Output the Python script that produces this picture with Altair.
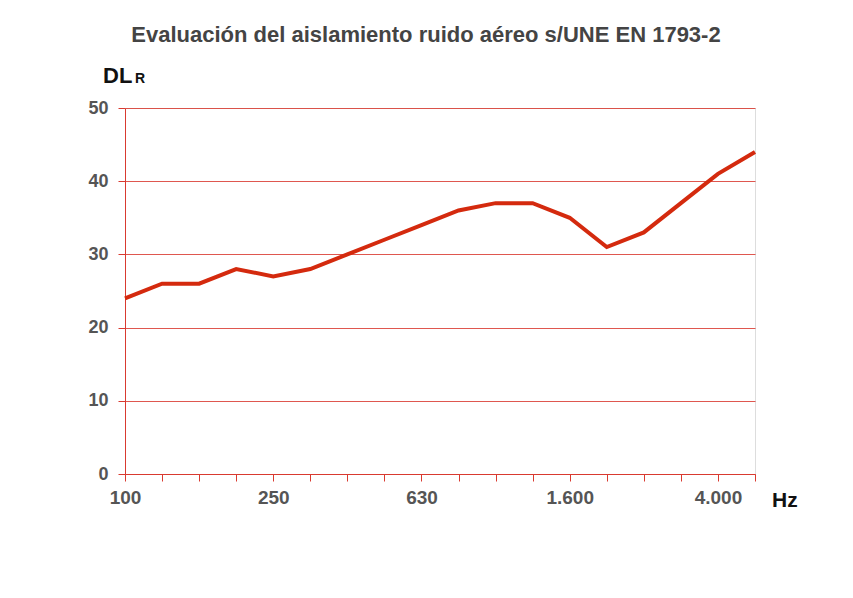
import altair as alt
import pandas as pd

freqs = [100, 125, 160, 200, 250, 315, 400, 500, 630, 800, 1000, 1250, 1600, 2000, 2500, 3150, 4000, 5000]
values = [24, 26, 26, 28, 27, 28, 30, 32, 34, 36, 37, 37, 35, 31, 33, 37, 41, 44]
tick_labels = ["100", "", "", "", "250", "", "", "", "630", "", "", "", "1.600", "", "", "", "4.000", ""]
y_ticks = [0, 10, 20, 30, 40, 50]

title_text = "Evaluación del aislamiento ruido aéreo s/UNE EN 1793-2"

df = pd.DataFrame({"idx": list(range(len(freqs))), "freq": freqs, "dlr": values})
label_js = "[" + ",".join(f"'{l}'" for l in tick_labels) + "]"

FONT = "Liberation Sans"
RED = "#D42A0E"
AXRED = "#D93A30"

line = alt.Chart(df).mark_line(color=RED, strokeWidth=4).encode(
    x=alt.X(
        "idx:Q",
        scale=alt.Scale(domain=[0, len(freqs) - 1], nice=False, zero=False),
        axis=alt.Axis(
            values=list(range(len(freqs))),
            labelExpr=f"{label_js}[datum.value]",
            grid=False,
            title=None,
            domainColor=AXRED,
            tickColor=AXRED,
            tickSize=7,
            labelPadding=7,
            labelFont=FONT,
            labelFontSize=19,
            labelFontWeight="bold",
            labelColor="#555555",
            labelOverlap=False,
            labelFlush=False,
        ),
    ),
    y=alt.Y(
        "dlr:Q",
        scale=alt.Scale(domain=[0, 50], nice=False),
        axis=alt.Axis(
            values=y_ticks,
            grid=True,
            gridColor=AXRED,
            gridOpacity=0.85,
            title=None,
            domainColor=AXRED,
            tickColor=AXRED,
            tickSize=7,
            labelPadding=10,
            labelFont=FONT,
            labelFontSize=18,
            labelFontWeight="bold",
            labelColor="#555555",
        ),
    ),
)

title = alt.Chart(pd.DataFrame({"t": [title_text]})).mark_text(
    font=FONT, fontSize=22, fontWeight="bold", color="#444444", align="center", baseline="alphabetic"
).encode(text="t:N", x=alt.value(301), y=alt.value(-66))

dl = alt.Chart(pd.DataFrame({"t": ["DL"]})).mark_text(
    font=FONT, fontSize=22, fontWeight="bold", color="#111111", align="left", baseline="alphabetic"
).encode(text="t:N", x=alt.value(-22), y=alt.value(-25))

sub = alt.Chart(pd.DataFrame({"t": ["R"]})).mark_text(
    font=FONT, fontSize=14, fontWeight="bold", color="#111111", align="left", baseline="alphabetic"
).encode(text="t:N", x=alt.value(10), y=alt.value(-25))

hz = alt.Chart(pd.DataFrame({"t": ["Hz"]})).mark_text(
    font=FONT, fontSize=21, fontWeight="bold", color="#111111", align="left", baseline="alphabetic"
).encode(text="t:N", x=alt.value(647), y=alt.value(399))

chart = alt.layer(line, title, dl, sub, hz).properties(
    width=630,
    height=366,
    autosize=alt.AutoSizeParams(type="none"),
    padding={"left": 117, "top": 100, "right": 90, "bottom": 110},
).configure_view(stroke=AXRED, strokeWidth=1.5).configure(background="white")

chart.save("out.html", embed_options={"renderer": "svg", "actions": False})
